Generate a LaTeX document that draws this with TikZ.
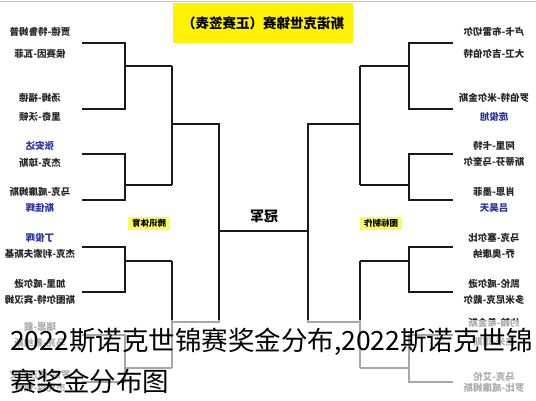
\documentclass[tikz,border=0pt]{standalone}
\usepackage{fontspec}
\usepackage{graphicx}
\newfontfamily\cjk{Noto Sans CJK SC}
\newcommand\mr[1]{\reflectbox{#1}}
\definecolor{nameblue}{RGB}{40,50,160}
\definecolor{lineblack}{RGB}{25,25,25}
\definecolor{labelyellow}{RGB}{250,250,95}
\tikzset{
  pname/.style={font=\cjk\bfseries\fontsize{9.5}{10}\selectfont, text=black!85, inner sep=0pt},
  bname/.style={pname, text=nameblue},
  br/.style={line width=1.6pt, draw=lineblack},
  tag/.style={fill=labelyellow, font=\cjk\bfseries\fontsize{8.5}{9}\selectfont, inner sep=0pt, minimum width=42pt, minimum height=13pt},
  caption/.style={font=\cjk\fontsize{26.5}{27}\selectfont, inner sep=0pt, anchor=west, text=black}
}
\begin{document}
\begin{tikzpicture}[x=1pt,y=-1pt]
\useasboundingbox (0,0) rectangle (536,400);
\fill[white] (0,0) rectangle (536,400);
\draw[gray!45, line width=1pt] (0,1) -- (536,1);

% title
\node[fill=yellow, minimum width=180pt, minimum height=40pt, inner sep=0pt] (title) at (263,23) {};
\node[font=\cjk\bfseries\fontsize{13.5}{14}\selectfont, inner sep=0pt] (titletext) at (title) {\mr{斯诺克世锦赛（正赛签表）}};

% left names
\foreach \n/\y/\t/\s in {
  L1/32/贾德-特鲁姆普/pname, L2/54/侯赛因-瓦菲/pname,
  L3/98/汤姆-福德/pname, L4/117/里奇-沃顿/pname,
  L5/146/张安达/bname, L6/163/杰克-琼斯/pname,
  L7/192/马克-威廉姆斯/pname, L8/208/斯佳辉/bname,
  L9/238/丁俊晖/bname, L10/254/杰克-利索夫斯基/pname,
  L11/284/加里-威尔逊/pname, L12/300/斯图尔特-宾汉姆/pname,
  L13/327/瑞恩-戴/pname, L14/343/马克-戴维斯/pname,
  L15/375/罗尼-奥沙利文/pname, L16/388/杰克森-佩奇/pname}
  {\node[\s] (\n) at (40,\y) {\mr{\t}};}

% right names
\foreach \n/\y/\t/\s in {
  R1/32/卢卡-布雷切尔/pname, R2/54/大卫-吉尔伯特/pname,
  R3/98/罗伯特-米尔金斯/pname, R4/117/庞俊旭/bname,
  R5/146/阿里-卡特/pname, R6/162/斯蒂芬-马奎尔/pname,
  R7/192/肖恩-墨菲/pname, R8/208/吕昊天/bname,
  R9/238/马克-塞尔比/pname, R10/254/乔-奥康纳/pname,
  R11/284/凯伦-威尔逊/pname, R12/300/多米尼克-戴尔/pname,
  R13/323/约翰-希金斯/pname, R14/342/杰米-琼斯/pname,
  R15/377/马克-艾伦/pname, R16/388/罗比-威廉姆斯/pname}
  {\node[\s] (\n) at (494,\y) {\mr{\t}};}

% left bracket
\foreach \i/\t/\b/\o in {1/43/109/66, 2/154/200/185, 3/247/292/261, 4/335/382/368} {
  \coordinate (la\i) at (82,\t);
  \coordinate (lb\i) at (82,\b);
  \coordinate (lv\i) at (125,\o);
  \coordinate (lo\i) at (172,\o);
  \draw[br] (la\i) -| (lb\i -| lv\i) -- (lb\i);
  \draw[br] (lv\i) -- (lo\i);
}
\coordinate (lsA) at (219,124);
\coordinate (lsB) at (219,322);
\draw[br] (lo1) -- (lo2);
\draw[br] (lo3) -- (lo4);
\draw[br] (lsA -| lo1) -- (lsA) -- (lsB) -- (lsB -| lo1);

% right bracket
\foreach \i/\t/\b/\o in {1/43/109/66, 2/154/200/185, 3/247/292/261, 4/335/382/368} {
  \coordinate (ra\i) at (453,\t);
  \coordinate (rb\i) at (453,\b);
  \coordinate (rv\i) at (409,\o);
  \coordinate (ro\i) at (360,\o);
  \draw[br] (ra\i) -| (rb\i -| rv\i) -- (rb\i);
  \draw[br] (rv\i) -- (ro\i);
}
\coordinate (rsA) at (308,124);
\coordinate (rsB) at (308,322);
\draw[br] (ro1) -- (ro2);
\draw[br] (ro3) -- (ro4);
\draw[br] (rsA -| ro1) -- (rsA) -- (rsB) -- (rsB -| ro1);

% final
\coordinate (fl) at (219,231);
\coordinate (fr) at (308,231);
\draw[br] (fl) -- (fr);
\node[font=\cjk\bfseries\fontsize{14}{14}\selectfont, inner sep=0pt] (champ) at (264,216) {\mr{冠军}};

% labels
\node[tag] (tagL) at (149,223) {\mr{腾讯体育}};
\node[tag] (tagR) at (381,223) {\mr{图标制作}};

% fade over lower part
\fill[white, opacity=0.62] (0,320) rectangle (536,400);

% caption
\node[caption] (cap1) at (10,342) {2022斯诺克世锦赛奖金分布,2022斯诺克世锦};
\node[caption] (cap2) at (10,381) {赛奖金分布图};
\end{tikzpicture}
\end{document}
